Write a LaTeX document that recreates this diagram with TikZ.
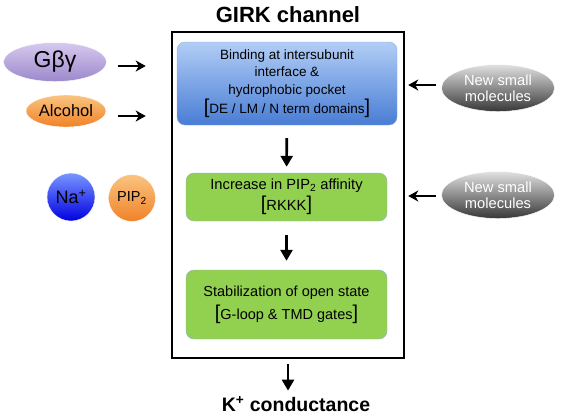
\documentclass[tikz,border=0pt]{standalone}
\usepackage{fontspec}
\setmainfont{Liberation Sans}
\usepackage{tikz}
\usetikzlibrary{arrows.meta}
\usetikzlibrary{positioning,shapes}
\usepackage{xcolor}
\definecolor{bluetop}{RGB}{178,206,246}
\definecolor{bluebot}{RGB}{72,124,212}
\definecolor{blueline}{RGB}{140,172,224}
\definecolor{greenfill}{RGB}{146,208,80}
\definecolor{greenline}{RGB}{150,178,200}
\definecolor{purtop}{RGB}{214,202,238}
\definecolor{purbot}{RGB}{156,136,204}
\definecolor{orgtop}{RGB}{250,196,128}
\definecolor{orgbot}{RGB}{240,130,40}
\definecolor{natop}{RGB}{120,150,255}
\definecolor{nabot}{RGB}{0,0,225}
\definecolor{greytop}{RGB}{225,225,225}
\definecolor{greybot}{RGB}{55,55,55}
\newcommand{\bigbr}{\fontsize{20}{20}\selectfont}
\tikzset{
    stepbox/.style={
        draw,
        rounded corners=8pt,
        align=center,
        inner sep=0pt,
        font=\fontsize{13.5}{17.5}\selectfont
    },
    blob/.style={
        ellipse,
        inner sep=0pt,
        draw=white
    },
    arr/.style={
        draw,
        -{Stealth[length=10pt, width=11pt, inset=3pt]},
        line width=2.6pt
    },
    downarr/.style={
        draw,
        -{Triangle[length=11pt, width=12pt]},
        line width=2.6pt
    }
}

\begin{document}
\begin{tikzpicture}[x=1pt, y=-1pt]
    \useasboundingbox (0,0) rectangle (567,416);
    % channel frame
    \node[draw, line width=2.5pt, minimum width=232pt, minimum height=326pt, inner sep=0pt] (box) at (288,195) {};
    \node[font=\bfseries\fontsize{22}{22}\selectfont] (title) at (288,15) {GIRK channel};
    \node[font=\bfseries\fontsize{19.5}{19.5}\selectfont] (kcond) at (296,404) {K\textsuperscript{+} conductance};

    % steps inside
    \node[stepbox, draw=blueline, top color=bluetop, bottom color=bluebot, minimum width=220pt, minimum height=83pt] (bind) at (287,83.5)
        {Binding at intersubunit\\interface \&\\hydrophobic pocket\\[2pt]{\bigbr[}DE / LM / N term domains{\bigbr]}};
    \node[stepbox, draw=greenline, fill=greenfill, minimum width=201pt, minimum height=48pt, font=\fontsize{14.7}{20}\selectfont] (incr) at (286.5,197)
        {Increase in PIP\textsubscript{2} affinity\\[1pt]{\bigbr[}RKKK{\bigbr]}};
    \node[stepbox, draw=greenline, fill=greenfill, minimum width=201pt, minimum height=69pt, font=\fontsize{14.5}{20}\selectfont] (stab) at (286.5,304.5)
        {Stabilization of open state\\[3pt]{\bigbr[}G-loop \& TMD gates{\bigbr]}};

    % modulators
    \node[blob, top color=purtop, bottom color=purbot, minimum width=103pt, minimum height=39pt, font=\fontsize{23}{23}\selectfont] (gbg) at (55,62) {Gβγ};
    \node[blob, top color=orgtop, bottom color=orgbot, minimum width=80pt, minimum height=32pt, font=\fontsize{16.5}{16.5}\selectfont] (alc) at (66,111) {Alcohol};
    \node[circle, draw=white, inner sep=0pt, top color=natop, bottom color=nabot, minimum size=48pt, font=\fontsize{18}{18}\selectfont] (na) at (71,197) {Na\textsuperscript{+}};
    \node[circle, draw=white, inner sep=0pt, top color=orgtop, bottom color=orgbot, minimum size=47pt, font=\fontsize{14.5}{14.5}\selectfont] (pip) at (132,198) {PIP\textsubscript{2}};
    \node[blob, top color=greytop, bottom color=greybot, minimum width=113pt, minimum height=47pt, align=center, text=white, font=\fontsize{14.7}{16.5}\selectfont] (mol1) at (498,88) {New small\\molecules};
    \node[blob, top color=greytop, bottom color=greybot, minimum width=113pt, minimum height=47pt, align=center, text=white, font=\fontsize{14.7}{16.5}\selectfont] (mol2) at (498,195) {New small\\molecules};

    % arrows
    \draw[arr, shorten <=11pt, shorten >=25pt] ([yshift=-4pt]gbg.east) -- ([yshift=-4pt]gbg.east -| box.west);
    \draw[arr, shorten <=11pt, shorten >=25pt] ([yshift=-5pt]alc.east -| gbg.east) -- ([yshift=-5pt]alc.east -| box.west);
    \draw[arr, shorten <=5pt, shorten >=3pt] ([yshift=3pt]mol1.west) -- ([yshift=3pt]mol1.west -| box.east);
    \draw[arr, shorten <=5pt, shorten >=3pt] ([yshift=-1pt]mol2.west) -- ([yshift=-1pt]mol2.west -| box.east);
    \draw[downarr, shorten <=13pt, shorten >=6pt] (bind) -- (incr);
    \draw[downarr, shorten <=14pt, shorten >=9pt] (incr) -- (stab);
    \draw[downarr, shorten <=5pt, shorten >=2pt] (box.south) -- (box.south |- kcond.north);
\end{tikzpicture}
\end{document}
